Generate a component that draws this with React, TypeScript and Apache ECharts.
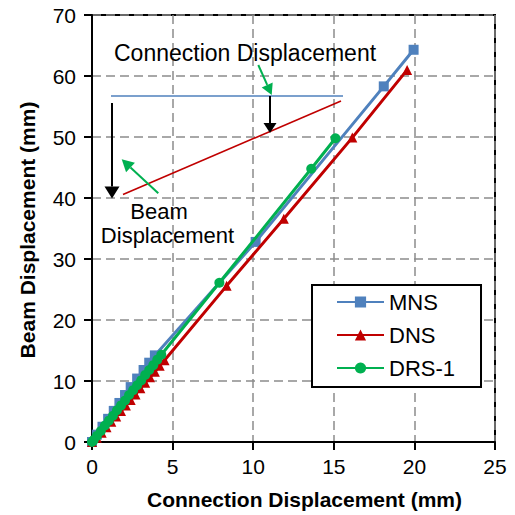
import React, { useEffect, useRef } from "react";
import * as echarts from "echarts";

// Connection displacement (mm) vs beam displacement (mm) for each specimen
const mnsData: [number, number][] = [
  [0, 0], [0.3, 1.2], [0.65, 2.5], [1.0, 3.8], [1.35, 5.1], [1.7, 6.4],
  [2.05, 7.7], [2.4, 9.0], [2.8, 10.4], [3.2, 11.8], [3.55, 13.0], [3.9, 14.2],
  [10.15, 32.8], [18.1, 58.3], [19.95, 64.3],
];
const dnsData: [number, number][] = [
  [0, 0], [0.3, 0.7], [0.6, 1.5], [0.9, 2.4], [1.2, 3.3], [1.5, 4.2],
  [1.8, 5.1], [2.1, 6.0], [2.4, 6.9], [2.7, 7.8], [3.0, 8.8], [3.3, 9.7],
  [3.6, 10.6], [3.9, 11.5], [4.2, 12.5], [4.5, 13.4],
  [8.35, 25.6], [11.9, 36.6], [16.15, 49.9], [19.55, 61.0],
];
const drsData: [number, number][] = [
  [0, 0], [0.1, 0.3], [0.3, 1.0], [0.55, 1.8], [0.8, 2.7], [1.05, 3.5],
  [1.3, 4.3], [1.55, 5.2], [1.8, 6.0], [2.05, 6.8], [2.3, 7.7], [2.55, 8.5],
  [2.8, 9.3], [3.05, 10.1], [3.3, 11.0], [3.55, 11.8], [3.8, 12.6], [4.05, 13.5],
  [4.3, 14.3], [7.9, 26.1], [13.6, 44.8], [15.1, 49.8],
];

const seriesNames = ["MNS", "DNS", "DRS-1"];
const seriesColors = ["#4F81BD", "#C00000", "#00B050"];
const seriesSymbols = ["rect", "triangle", "circle"];
const seriesValues = [mnsData, dnsData, drsData];

const xTitle = "Connection Displacement (mm)";
const yTitle = "Beam Displacement (mm)";

const FONT = '"Liberation Sans", Arial, Helvetica, sans-serif';

// Straight arrow: shaft plus a filled triangular head at (x2, y2)
function arrow(
  x1: number, y1: number, x2: number, y2: number,
  color: string, head: number, halfW: number, width: number
) {
  const dx = x2 - x1;
  const dy = y2 - y1;
  const len = Math.hypot(dx, dy);
  const ux = dx / len;
  const uy = dy / len;
  const bx = x2 - ux * head;
  const by = y2 - uy * head;
  const px = -uy * halfW;
  const py = ux * halfW;
  return [
    {
      type: "line",
      shape: { x1, y1, x2: bx, y2: by },
      style: { stroke: color, lineWidth: width },
      z: 100,
    },
    {
      type: "polygon",
      shape: { points: [[x2, y2], [bx + px, by + py], [bx - px, by - py]] },
      style: { fill: color },
      z: 100,
    },
  ];
}

export default function App() {
  const ref = useRef<HTMLDivElement>(null);

  useEffect(() => {
    if (!ref.current) return;
    const chart = echarts.init(ref.current, null, { renderer: "svg" });

    const axisCommon = {
      axisLine: { show: true, onZero: false, lineStyle: { color: "#000", width: 2 } },
      axisTick: { show: true, inside: false, length: 8, lineStyle: { color: "#000", width: 2 } },
      splitLine: { show: true, lineStyle: { color: "#8c8c8c", width: 1.5, type: [9, 5] } },
      axisLabel: { color: "#000", fontSize: 21, fontFamily: FONT },
    };

    const note = (text: string, x: number, y: number, align: string, size: number) => ({
      type: "text",
      x,
      y,
      style: {
        text,
        font: `${size}px ${FONT}`,
        fill: "#000",
        textAlign: align,
        textVerticalAlign: "middle",
      },
      z: 100,
    });

    const annotation: any[] = [
      note("Connection Displacement", 114, 53, "left", 23),
      {
        type: "line",
        shape: { x1: 111, y1: 96, x2: 343, y2: 96 },
        style: { stroke: "#4F81BD", lineWidth: 1.6 },
        z: 100,
      },
      {
        type: "line",
        shape: { x1: 123, y1: 194.5, x2: 341, y2: 101 },
        style: { stroke: "#C00000", lineWidth: 1.6 },
        z: 100,
      },
      ...arrow(270, 96, 270, 133, "#000", 10, 6.5, 2),
      ...arrow(112, 103, 112, 198.5, "#000", 12, 7.5, 2),
      ...arrow(258.3, 65, 271.7, 95, "#00B050", 11, 6, 2),
      ...arrow(158.3, 193.3, 121.7, 159.3, "#00B050", 12, 6.5, 2),
      note("Beam", 159, 211, "center", 22),
      note("Displacement", 167.5, 235, "center", 22),
      {
        type: "text",
        x: 304.5,
        y: 499,
        style: {
          text: xTitle,
          font: `bold 21px ${FONT}`,
          fill: "#000",
          textAlign: "center",
          textVerticalAlign: "middle",
        },
      },
      {
        type: "text",
        x: 27,
        y: 230,
        rotation: Math.PI / 2,
        style: {
          text: yTitle,
          font: `bold 21px ${FONT}`,
          fill: "#000",
          textAlign: "center",
          textVerticalAlign: "middle",
        },
      },
    ];

    chart.setOption({
      animation: false,
      backgroundColor: "#fff",
      grid: {
        left: 92,
        right: 20,
        top: 15,
        bottom: 73,
        show: true,
        borderColor: "#000",
        borderWidth: 2,
        backgroundColor: "transparent",
      },
      xAxis: {
        type: "value",
        min: 0,
        max: 25,
        interval: 5,
        ...axisCommon,
        axisLabel: { ...axisCommon.axisLabel, margin: 14 },
      },
      yAxis: {
        type: "value",
        min: 0,
        max: 70,
        interval: 10,
        ...axisCommon,
        axisLabel: { ...axisCommon.axisLabel, margin: 16 },
      },
      legend: {
        orient: "vertical",
        left: 312,
        top: 285,
        padding: [6, 26, 8, 24],
        itemWidth: 47,
        itemHeight: 14,
        itemGap: 11,
        borderColor: "#000",
        borderWidth: 2,
        backgroundColor: "#fff",
        textStyle: { color: "#000", fontSize: 22, fontFamily: FONT, lineHeight: 22 },
        data: seriesNames,
      },
      series: seriesNames.map((name, i) => ({
        name,
        type: "line",
        data: seriesValues[i],
        symbol: seriesSymbols[i],
        symbolSize: 10,
        showAllSymbol: true,
        lineStyle: { color: seriesColors[i], width: 3 },
        itemStyle: { color: seriesColors[i] },
        z: 10 + i,
      })),
      graphic: annotation,
    });

    return () => chart.dispose();
  }, []);

  return (
    <div
      ref={ref}
      style={{ position: "fixed", left: 0, top: 0, width: 515, height: 515 }}
    />
  );
}
